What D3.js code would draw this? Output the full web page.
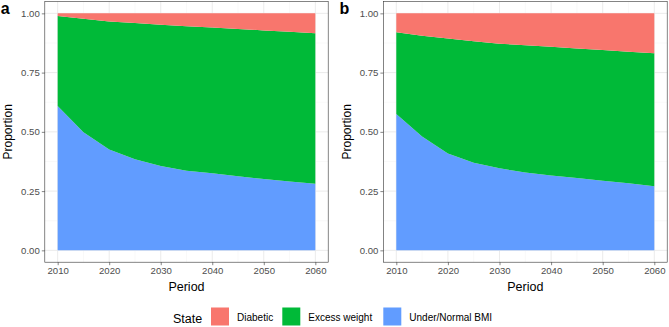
<!DOCTYPE html>
<html>
<head>
<meta charset="utf-8">
<script src="https://cdn.jsdelivr.net/npm/d3@7"></script>
<style>
  body { margin: 0; background: #fff; }
  svg { font-family: "Liberation Sans", Arial, sans-serif; }
</style>
</head>
<body>
<svg id="chart" width="669" height="327"></svg>
<script>
// 데이터
const years = [2010, 2015, 2020, 2025, 2030, 2035, 2040, 2045, 2050, 2055, 2060];
const states = ["Diabetic", "Excess weight", "Under/Normal BMI"];
const yTicks = [0, 0.25, 0.5, 0.75, 1];
const xTicks = [2010, 2020, 2030, 2040, 2050, 2060];

// panel a
const aUnder = [0.609, 0.498, 0.426, 0.384, 0.356, 0.336, 0.325, 0.313, 0.301, 0.291, 0.281];
const aExcess = [0.380, 0.479, 0.540, 0.575, 0.596, 0.610, 0.615, 0.621, 0.627, 0.631, 0.635];
const aDiabetic = [0.011, 0.023, 0.034, 0.041, 0.048, 0.054, 0.060, 0.066, 0.072, 0.078, 0.084];

// panel b
const bUnder = [0.575, 0.480, 0.409, 0.370, 0.346, 0.328, 0.316, 0.305, 0.294, 0.283, 0.270];
const bExcess = [0.345, 0.426, 0.485, 0.512, 0.526, 0.537, 0.543, 0.547, 0.551, 0.555, 0.562];
const bDiabetic = [0.080, 0.094, 0.106, 0.118, 0.128, 0.135, 0.141, 0.148, 0.155, 0.162, 0.168];

const color = d3.scaleOrdinal()
    .domain(states)
    .range(["#F8766D", "#00BA38", "#619CFF"]);

const svg = d3.select("#chart");

// 패널 그리기
function drawPanel(tag, left, right, under, excess, diabetic) {
    const top = 1.5, bottom = 262.2;
    const rows = years.map((y, i) => ({
        year: y,
        "Under/Normal BMI": under[i],
        "Excess weight": excess[i],
        "Diabetic": diabetic[i]
    }));

    const x = d3.scaleLinear()
        .domain([2007.5, 2062.5])
        .range([left, right]);
    const y = d3.scaleLinear()
        .domain([-0.05, 1.05])
        .range([bottom, top]);

    const g = svg.append("g");

    // 배경 격자
    const minorX = d3.range(2015, 2060, 10);
    const minorY = [0.125, 0.375, 0.625, 0.875];
    g.selectAll(".minx").data(minorX).enter().append("line")
        .attr("x1", d => x(d)).attr("x2", d => x(d))
        .attr("y1", top).attr("y2", bottom)
        .attr("stroke", "#F2F2F2").attr("stroke-width", 0.5);
    g.selectAll(".miny").data(minorY).enter().append("line")
        .attr("x1", left).attr("x2", right)
        .attr("y1", d => y(d)).attr("y2", d => y(d))
        .attr("stroke", "#F2F2F2").attr("stroke-width", 0.5);
    g.selectAll(".majx").data(xTicks).enter().append("line")
        .attr("x1", d => x(d)).attr("x2", d => x(d))
        .attr("y1", top).attr("y2", bottom)
        .attr("stroke", "#EBEBEB").attr("stroke-width", 1);
    g.selectAll(".majy").data(yTicks).enter().append("line")
        .attr("x1", left).attr("x2", right)
        .attr("y1", d => y(d)).attr("y2", d => y(d))
        .attr("stroke", "#EBEBEB").attr("stroke-width", 1);

    // 누적 영역
    const stack = d3.stack().keys(["Under/Normal BMI", "Excess weight", "Diabetic"]);
    const area = d3.area()
        .x(d => x(d.data.year))
        .y0(d => y(d[0]))
        .y1(d => y(d[1]));
    g.selectAll(".layer").data(stack(rows)).enter().append("path")
        .attr("d", area)
        .attr("fill", d => color(d.key));

    // 테두리
    g.append("rect")
        .attr("x", left).attr("y", top)
        .attr("width", right - left).attr("height", bottom - top)
        .attr("fill", "none").attr("stroke", "#333333").attr("stroke-width", 0.6);

    // 축
    const yAxis = d3.axisLeft(y).tickValues(yTicks).tickFormat(d3.format(".2f")).tickSize(3).tickPadding(2);
    const ya = g.append("g").attr("transform", `translate(${left},0)`).call(yAxis);
    const xAxis = d3.axisBottom(x).tickValues(xTicks).tickFormat(d3.format("d")).tickSize(3).tickPadding(2);
    const xa = g.append("g").attr("transform", `translate(0,${bottom})`).call(xAxis);
    [ya, xa].forEach(a => {
        a.select(".domain").remove();
        a.selectAll(".tick line").attr("stroke", "#333333").attr("stroke-width", 0.6);
        a.selectAll(".tick text").attr("fill", "#4D4D4D").style("font-size", "9.6px")
            .style("font-family", "Liberation Sans, Arial, sans-serif");
    });

    // 제목
    g.append("text")
        .attr("x", (left + right) / 2).attr("y", 290.5)
        .attr("text-anchor", "middle")
        .style("font-size", "12.5px")
        .text("Period");
    g.append("text")
        .attr("transform", `translate(${left - 32.5},${(top + bottom) / 2}) rotate(-90)`)
        .attr("text-anchor", "middle")
        .style("font-size", "12px")
        .text("Proportion");
    g.append("text")
        .attr("x", left - 44).attr("y", 13.5)
        .style("font-size", "16px").style("font-weight", "bold")
        .text(tag);
}

drawPanel("a", 44.8, 328.2, aUnder, aExcess, aDiabetic);
drawPanel("b", 383.4, 667.2, bUnder, bExcess, bDiabetic);

// 범례
const legend = svg.append("g");
legend.append("text")
    .attr("x", 173).attr("y", 322.5)
    .style("font-size", "12.5px")
    .text("State");
const keyX = [211, 282.3, 383.3];
states.forEach((s, i) => {
    legend.append("rect")
        .attr("x", keyX[i]).attr("y", 307.5)
        .attr("width", 18).attr("height", 18)
        .attr("fill", color(s));
    legend.append("text")
        .attr("x", keyX[i] + 26).attr("y", 320.5)
        .style("font-size", "10px")
        .text(s);
});
</script>
</body>
</html>
